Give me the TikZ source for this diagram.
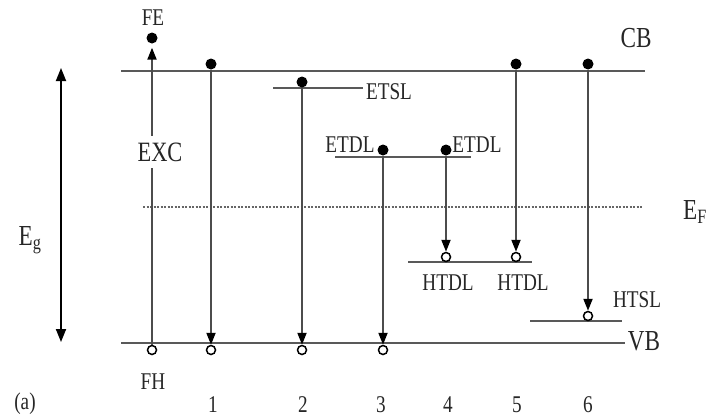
\documentclass[tikz,border=0pt]{standalone}
\usepackage{fontspec}
\setmainfont[FakeStretch=0.8]{Liberation Serif}
\usetikzlibrary{arrows.meta}
\tikzset{
  level/.style={draw=black!65,line width=2.6pt},
  fermi/.style={draw=black!60,dash pattern=on 2pt off 1.5pt,line width=1.2pt},
  trans/.style={-{Triangle[length=12pt,width=9pt,color=black]},draw=black!70,line width=2pt},
  gaparrow/.style={{Triangle[length=13pt,width=10pt]}-{Triangle[length=13pt,width=10pt]},draw=black,line width=1.8pt},
  electron/.style={circle,fill=black,minimum size=11pt,inner sep=0pt},
  hole/.style={circle,draw=black,fill=white,line width=1.5pt,minimum size=9pt,inner sep=0pt},
  lbl/.style={font=\fontsize{24}{24}\selectfont,inner sep=0pt,text=black!85},
  bandlbl/.style={font=\fontsize{29}{29}\selectfont,inner sep=0pt,text=black!85}
}
\begin{document}
\begin{tikzpicture}[x=1pt,y=-1pt]
\useasboundingbox (0,0) rectangle (708,418);
% band edges and Fermi level
\coordinate (cbL) at (121,71); \coordinate (cbR) at (645,71);
\coordinate (vbL) at (121,343); \coordinate (vbR) at (625,343);
\coordinate (efL) at (143,207); \coordinate (efR) at (643,207);
\draw[level] (cbL) -- (cbR);
\draw[level] (vbL) -- (vbR);
\draw[fermi] (efL) -- (efR);
\node[bandlbl] (cb) at (636,38) {CB};
\node[bandlbl] (vb) at (644,341) {VB};
\node[bandlbl,anchor=west] (ef) at (683,212) {E\textsubscript{F}};
% gap
\coordinate (egT) at (61,68); \coordinate (egB) at (61,342);
\draw[gaparrow] (egT) -- (egB);
\node[bandlbl] (eg) at (30,240) {E\textsubscript{g}};
% trap levels
\coordinate (etslL) at (273,88); \coordinate (etslR) at (363,88);
\coordinate (etdlL) at (335,157); \coordinate (etdlR) at (471,157);
\coordinate (htdlL) at (408,262); \coordinate (htdlR) at (532,262);
\coordinate (htslL) at (530,321); \coordinate (htslR) at (622,321);
\draw[level] (etslL) -- (etslR);
\draw[level] (etdlL) -- (etdlR);
\draw[level] (htdlL) -- (htdlR);
\draw[level] (htslL) -- (htslR);
% electrons and holes
\node[electron] (fe) at (152,38) {};
\node[electron] (e1) at (211,64) {};
\node[electron] (e2) at (302,82) {};
\node[electron] (e3) at (383,150) {};
\node[electron] (e4) at (446,150) {};
\node[electron] (e5) at (516,64) {};
\node[electron] (e6) at (588,64) {};
\node[hole] (fh) at (152,350) {};
\node[hole] (h1) at (211,350) {};
\node[hole] (h2) at (302,350) {};
\node[hole] (h3) at (383,350) {};
\node[hole] (h4) at (446,257) {};
\node[hole] (h5) at (516,257) {};
\node[hole] (h6) at (588,316) {};
% transitions
\draw[trans,shorten >=4pt] (fh) -- (fe);
\node[font=\fontsize{28}{28}\selectfont,text=black!85,fill=white,inner xsep=1pt,inner ysep=7pt] (exc) at (160,152) {EXC};
\draw[trans] (e1) -- (h1);
\draw[trans] (e2) -- (h2);
\draw[trans] (e3) -- (h3);
\draw[trans] (e4) -- (h4);
\draw[trans] (e5) -- (h5);
\draw[trans] (e6) -- (h6);
% labels
\node[lbl] (fel) at (153,18) {FE};
\node[lbl] (fhl) at (153,382) {FH};
\node[lbl] (etsl) at (389,92) {ETSL};
\node[lbl] (etdla) at (350,145) {ETDL};
\node[lbl] (etdlb) at (477,145) {ETDL};
\node[lbl] (htdla) at (448,283) {HTDL};
\node[lbl] (htdlb) at (523,283) {HTDL};
\node[lbl] (htsl) at (637,300) {HTSL};
\foreach \n/\x in {1/213,2/303,3/381,4/448,5/517,6/588}
  \node[lbl] (n\n) at (\x,405) {\n};
\node[lbl] (tag) at (25,404) {(a)};
\end{tikzpicture}
\end{document}
